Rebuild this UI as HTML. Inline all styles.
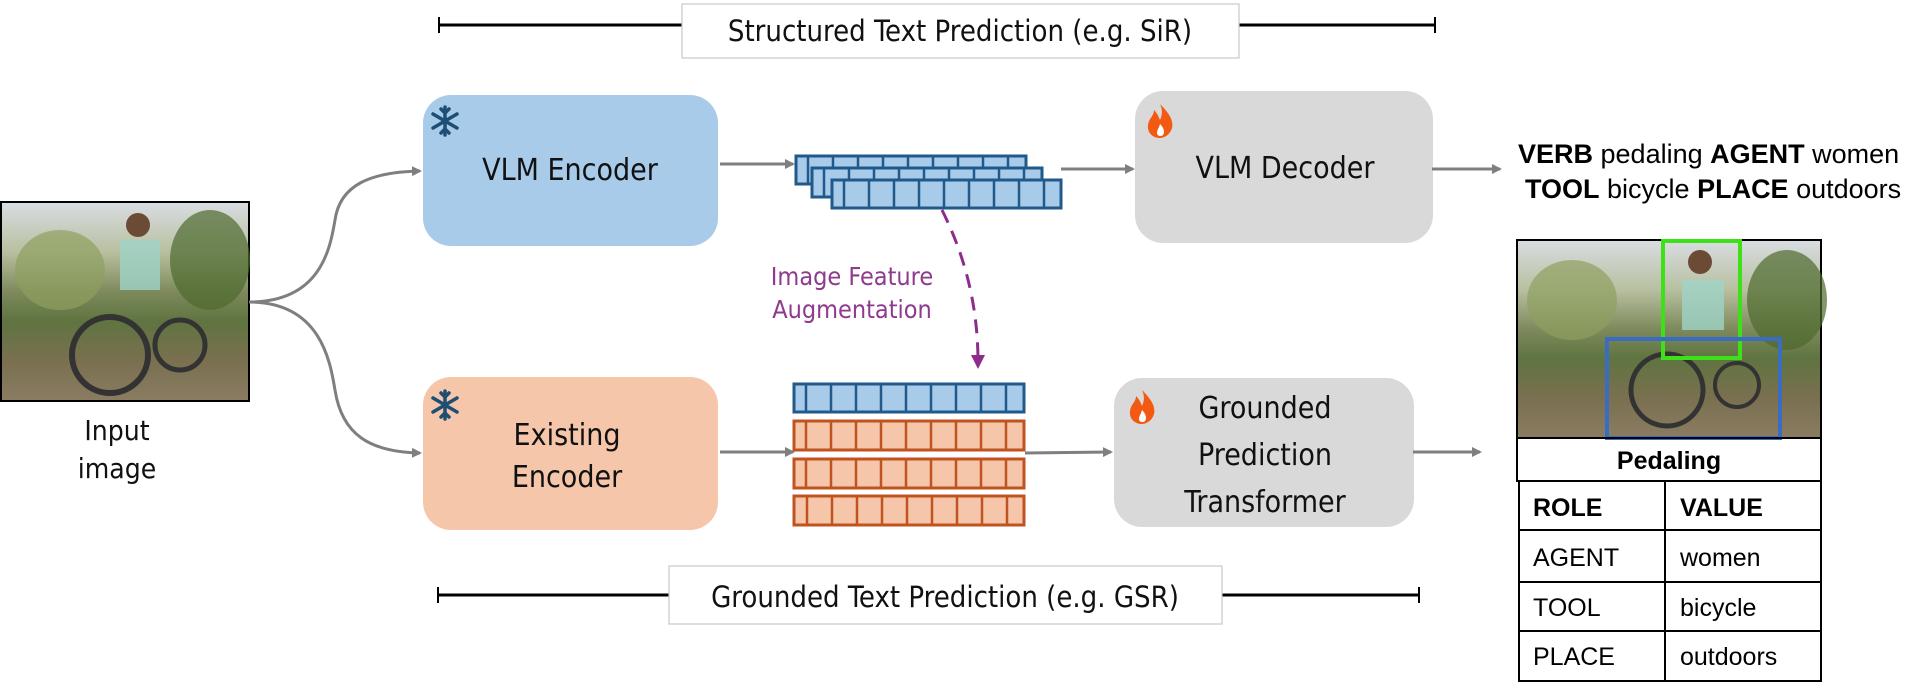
<!DOCTYPE html>
<html><head><meta charset="utf-8"><style>
html,body{margin:0;padding:0;background:#fff;}
svg{display:block;}
.hw{font-family:"DejaVu Sans Condensed","DejaVu Sans","Liberation Sans",sans-serif;font-weight:300;}
.ar{font-family:"Liberation Sans",sans-serif;}
</style></head><body>
<svg width="1923" height="691" viewBox="0 0 1923 691" xmlns="http://www.w3.org/2000/svg">
<defs>
<marker id="ga" markerWidth="10" markerHeight="10" refX="8" refY="5" orient="auto" markerUnits="userSpaceOnUse"><path d="M0,0 L10,5 L0,10 z" fill="#7f7f7f"/></marker>
<marker id="pa" markerWidth="14" markerHeight="14" refX="7" refY="7" orient="auto" markerUnits="userSpaceOnUse"><path d="M0,0 L14,7 L0,14 z" fill="#8e2c8c"/></marker>
<linearGradient id="photo" x1="0" y1="0" x2="0" y2="1">
<stop offset="0" stop-color="#d9dde3"/><stop offset="0.25" stop-color="#b8c0a0"/><stop offset="0.45" stop-color="#7e8a5c"/><stop offset="0.6" stop-color="#5f7440"/><stop offset="0.8" stop-color="#7a7050"/><stop offset="1" stop-color="#8a7c62"/>
</linearGradient>
<g id="snow" stroke="#1c4f73" stroke-width="3.5" stroke-linecap="round" fill="none">
<line x1="0" y1="-14" x2="0" y2="14"/><line x1="-12" y1="-7" x2="12" y2="7"/><line x1="-12" y1="7" x2="12" y2="-7"/>
<path d="M-4,-12 L0,-8 L4,-12 M-4,12 L0,8 L4,12"/>
</g>
<g id="fire"><path d="M0,-16 C8,-8 14,0 12,8 C10,15 4,18 0,18 C-7,18 -13,13 -12,5 C-11,-2 -6,-4 -6,-10 C-2,-6 -1,-2 0,0 C3,-6 2,-12 0,-16z" fill="#f25a13"/><path d="M0,4 C4,8 5,12 3,15 C1,17 -3,16 -3,13 C-3,10 -1,8 0,4z" fill="#fff"/></g>
</defs>

<!-- top bracket -->
<line x1="438" y1="25" x2="1436" y2="25" stroke="#000" stroke-width="3"/>
<line x1="439" y1="17" x2="439" y2="33" stroke="#000" stroke-width="2"/>
<line x1="1435" y1="17" x2="1435" y2="33" stroke="#000" stroke-width="2"/>
<rect x="682" y="4" width="557" height="54" fill="#fff" stroke="#c8c8c8" stroke-width="1.2"/>
<text x="960" y="41" text-anchor="middle" class="hw" font-size="29" fill="#111">Structured Text Prediction (e.g. SiR)</text>

<!-- bottom bracket -->
<line x1="437" y1="595" x2="1420" y2="595" stroke="#000" stroke-width="3"/>
<line x1="438" y1="587" x2="438" y2="603" stroke="#000" stroke-width="2"/>
<line x1="1419" y1="587" x2="1419" y2="603" stroke="#000" stroke-width="2"/>
<rect x="669" y="566" width="553" height="58" fill="#fff" stroke="#c8c8c8" stroke-width="1.2"/>
<text x="945" y="607" text-anchor="middle" class="hw" font-size="29" fill="#111">Grounded Text Prediction (e.g. GSR)</text>

<!-- input image -->
<rect x="1" y="202" width="248" height="199" fill="url(#photo)" stroke="#000" stroke-width="2"/>
<ellipse cx="60" cy="270" rx="45" ry="40" fill="#8ea060" opacity="0.7"/>
<ellipse cx="210" cy="260" rx="40" ry="50" fill="#4e6a2e" opacity="0.7"/>
<rect x="120" y="240" width="40" height="50" fill="#9fd3c8" opacity="0.8"/>
<circle cx="138" cy="225" r="12" fill="#6b4a36"/>
<circle cx="110" cy="355" r="38" fill="none" stroke="#333" stroke-width="6"/>
<circle cx="180" cy="345" r="25" fill="none" stroke="#333" stroke-width="5"/>
<text x="117" y="440" text-anchor="middle" class="hw" font-size="28" fill="#111">Input</text>
<text x="117" y="478" text-anchor="middle" class="hw" font-size="28" fill="#111">image</text>

<!-- curves -->
<path d="M249,302 C320,302 330,250 335,220 C340,185 370,172 420,171" fill="none" stroke="#7f7f7f" stroke-width="3" marker-end="url(#ga)"/>
<path d="M249,302 C320,302 330,360 335,390 C342,435 370,452 420,453" fill="none" stroke="#7f7f7f" stroke-width="3" marker-end="url(#ga)"/>

<!-- VLM encoder -->
<rect x="423" y="95" width="295" height="151" rx="28" fill="#a8cbea"/>
<use href="#snow" x="445" y="121"/>
<text x="570" y="180" text-anchor="middle" class="hw" font-size="30" fill="#111">VLM Encoder</text>
<!-- existing encoder -->
<rect x="423" y="377" width="295" height="153" rx="28" fill="#f5c6aa"/>
<use href="#snow" x="445" y="405"/>
<text x="567" y="445" text-anchor="middle" class="hw" font-size="30" fill="#111">Existing</text>
<text x="567" y="487" text-anchor="middle" class="hw" font-size="30" fill="#111">Encoder</text>

<!-- decoder -->
<rect x="1135" y="91" width="298" height="152" rx="28" fill="#d9d9d9"/>
<use href="#fire" x="1160" y="120"/>
<text x="1285" y="178" text-anchor="middle" class="hw" font-size="30" fill="#111">VLM Decoder</text>
<!-- GPT -->
<rect x="1114" y="378" width="300" height="149" rx="28" fill="#d9d9d9"/>
<use href="#fire" x="1142" y="406"/>
<text x="1265" y="418" text-anchor="middle" class="hw" font-size="30" fill="#111">Grounded</text>
<text x="1265" y="465" text-anchor="middle" class="hw" font-size="30" fill="#111">Prediction</text>
<text x="1265" y="512" text-anchor="middle" class="hw" font-size="30" fill="#111">Transformer</text>

<!-- arrows -->
<line x1="720" y1="164" x2="793" y2="164" stroke="#7f7f7f" stroke-width="3" marker-end="url(#ga)"/>
<line x1="1061" y1="169" x2="1133" y2="169" stroke="#7f7f7f" stroke-width="3" marker-end="url(#ga)"/>
<line x1="1432" y1="169" x2="1500" y2="169" stroke="#7f7f7f" stroke-width="3" marker-end="url(#ga)"/>
<line x1="720" y1="452" x2="793" y2="452" stroke="#7f7f7f" stroke-width="3" marker-end="url(#ga)"/>
<line x1="1025" y1="453" x2="1111" y2="452" stroke="#7f7f7f" stroke-width="3" marker-end="url(#ga)"/>
<line x1="1413" y1="452" x2="1480" y2="452" stroke="#7f7f7f" stroke-width="3" marker-end="url(#ga)"/>

<!-- feature bars -->
<g stroke="#1f5a8a" stroke-width="3" fill="#a8cbea">
<rect x="796" y="156" width="230" height="28"/>
<rect x="812" y="168" width="230" height="29"/>
<rect x="832" y="180" width="229" height="28"/>
<rect x="794" y="384" width="230" height="28"/>
</g>
<g stroke="#1f5a8a" stroke-width="2.5">
<path d="M808,156v28 M833,156v12 M858,156v12 M883,156v12 M908,156v12 M933,156v12 M958,156v12 M983,156v12 M1008,156v12"/>
<path d="M824,168v29 M849,168v12 M874,168v12 M899,168v12 M924,168v12 M949,168v12 M974,168v12 M999,168v12 M1024,168v12"/>
<path d="M844,180v28 M869,180v28 M894,180v28 M919,180v28 M944,180v28 M969,180v28 M994,180v28 M1019,180v28 M1044,180v28"/>
<path d="M806,384v28 M831,384v28 M856,384v28 M881,384v28 M906,384v28 M931,384v28 M956,384v28 M981,384v28 M1006,384v28"/>
</g>
<g stroke="#c0531f" stroke-width="3" fill="#f5c6aa">
<rect x="794" y="421" width="230" height="29"/>
<rect x="794" y="459" width="230" height="29"/>
<rect x="794" y="496" width="230" height="29"/>
</g>
<g stroke="#c0531f" stroke-width="2.5">
<path d="M806,421v29 M831,421v29 M856,421v29 M881,421v29 M906,421v29 M931,421v29 M956,421v29 M981,421v29 M1006,421v29"/>
<path d="M806,459v29 M831,459v29 M856,459v29 M881,459v29 M906,459v29 M931,459v29 M956,459v29 M981,459v29 M1006,459v29"/>
<path d="M807,496v29 M832,496v29 M857,496v29 M882,496v29 M907,496v29 M932,496v29 M957,496v29 M982,496v29 M1007,496v29"/>
</g>

<!-- dashed arrow -->
<path d="M942,210 C962,250 978,300 978,362" fill="none" stroke="#8e2c8c" stroke-width="3" stroke-dasharray="14,9" marker-end="url(#pa)"/>
<text x="852" y="285" text-anchor="middle" class="hw" font-size="25" fill="#8e3a8e">Image Feature</text>
<text x="852" y="318" text-anchor="middle" class="hw" font-size="25" fill="#8e3a8e">Augmentation</text>

<!-- output text -->
<text x="1518" y="163" class="ar" font-size="27" fill="#000"><tspan font-weight="bold">VERB</tspan> pedaling <tspan font-weight="bold">AGENT</tspan> women</text>
<text x="1525" y="198" class="ar" font-size="27" fill="#000"><tspan font-weight="bold">TOOL</tspan> bicycle <tspan font-weight="bold">PLACE</tspan> outdoors</text>

<g transform="translate(-8,0)">
<!-- right image -->
<rect x="1525" y="240" width="304" height="198" fill="url(#photo)" stroke="#000" stroke-width="2"/>
<ellipse cx="1580" cy="300" rx="45" ry="40" fill="#8ea060" opacity="0.7"/>
<ellipse cx="1795" cy="300" rx="40" ry="50" fill="#4e6a2e" opacity="0.7"/>
<rect x="1690" y="280" width="42" height="50" fill="#9fd3c8" opacity="0.8"/>
<circle cx="1708" cy="262" r="12" fill="#6b4a36"/>
<circle cx="1675" cy="390" r="36" fill="none" stroke="#333" stroke-width="5"/>
<circle cx="1745" cy="385" r="22" fill="none" stroke="#333" stroke-width="4"/>
<rect x="1671" y="241" width="77" height="117" fill="none" stroke="#3ee018" stroke-width="4"/>
<rect x="1615" y="339" width="173" height="99" fill="none" stroke="#3b6cc4" stroke-width="4"/>

<!-- table -->
<g stroke="#000" stroke-width="2" fill="none">
<rect x="1525" y="438" width="304" height="43"/>
<rect x="1527" y="481" width="302" height="200"/>
<line x1="1527" y1="530" x2="1829" y2="530"/>
<line x1="1527" y1="582" x2="1829" y2="582"/>
<line x1="1527" y1="631" x2="1829" y2="631"/>
<line x1="1673" y1="481" x2="1673" y2="681"/>
</g>
<text x="1677" y="469" text-anchor="middle" class="ar" font-size="25" font-weight="bold">Pedaling</text>
<text x="1541" y="516" class="ar" font-size="25" font-weight="bold">ROLE</text>
<text x="1688" y="516" class="ar" font-size="25" font-weight="bold">VALUE</text>
<text x="1541" y="566" class="ar" font-size="25">AGENT</text>
<text x="1688" y="566" class="ar" font-size="25">women</text>
<text x="1541" y="616" class="ar" font-size="25">TOOL</text>
<text x="1688" y="616" class="ar" font-size="25">bicycle</text>
<text x="1541" y="665" class="ar" font-size="25">PLACE</text>
<text x="1688" y="665" class="ar" font-size="25">outdoors</text>
</g>
</svg>
</body></html>
